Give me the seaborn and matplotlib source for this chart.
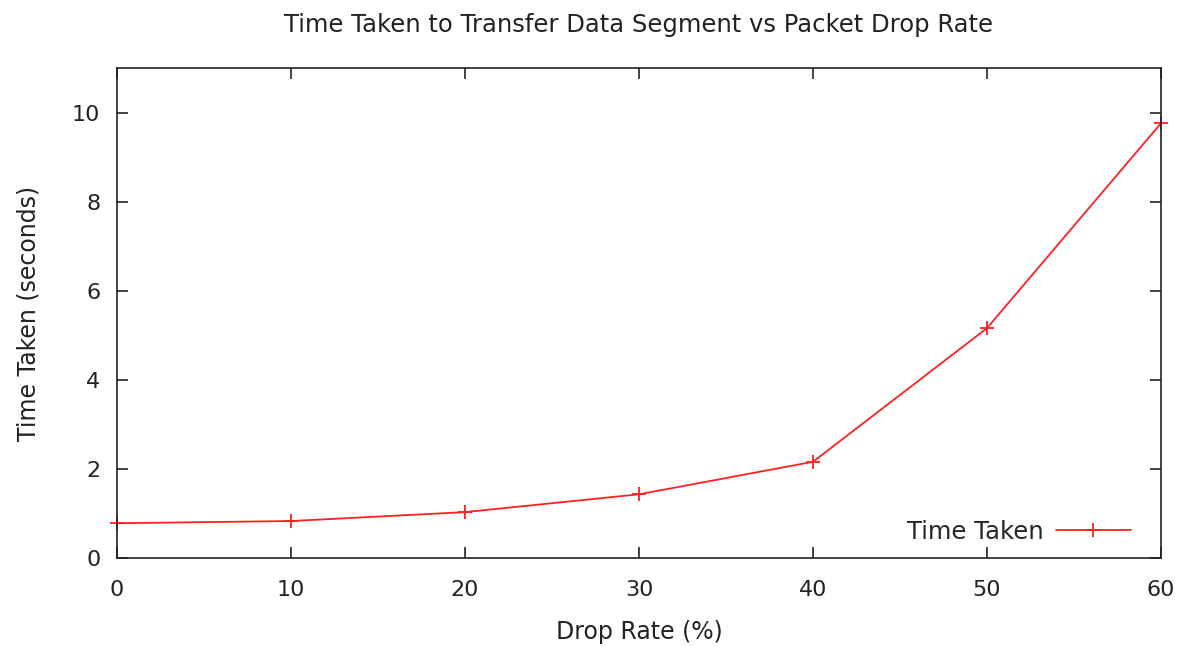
import matplotlib
matplotlib.use("Agg")
import pandas as pd
import matplotlib.pyplot as plt
import seaborn as sns

# Values
drop_rate = [0, 10, 20, 30, 40, 50, 60]
time_taken = [0.78, 0.83, 1.03, 1.43, 2.16, 5.16, 9.76]
y_ticks = [0, 2, 4, 6, 8, 10]

df = pd.DataFrame({"drop_rate": drop_rate, "time_taken": time_taken})

sns.set_style("ticks")
plt.rcParams['font.family'] = ['DejaVu Sans']

TEXT = "#222222"
RED = "#ff2020"

fig = plt.figure(figsize=(11.87, 6.46), dpi=100)
ax = fig.add_axes([117 / 1187, 88 / 646, 1044 / 1187, 490 / 646])

sns.lineplot(data=df, x="drop_rate", y="time_taken", color=RED, linewidth=1.3,
             marker="+", markersize=10, markeredgewidth=1.3, markeredgecolor=RED,
             label="Time Taken", ax=ax, clip_on=False)

ax.set_xlim(0, 60)
ax.set_ylim(0, 11)
ax.set_xticks(drop_rate)
ax.set_yticks(y_ticks)
ax.tick_params(direction="in", length=8, width=1.2, labelsize=16, top=True, right=True,
               colors=TEXT, labelcolor=TEXT)
ax.tick_params(axis="x", pad=16)
ax.tick_params(axis="y", pad=12)
for spine in ax.spines.values():
    spine.set_linewidth(1.2)
    spine.set_color(TEXT)

ax.set_xlabel("Drop Rate (%)", fontsize=17, color=TEXT, labelpad=14)
ax.set_ylabel("Time Taken (seconds)", fontsize=17, color=TEXT, labelpad=23)
ax.set_title("Time Taken to Transfer Data Segment vs Packet Drop Rate", fontsize=17.5,
             color=TEXT, pad=26)

ax.legend(loc="center right", bbox_to_anchor=(1014 / 1044, 26 / 490), frameon=False,
          fontsize=17.5, markerfirst=False, handlelength=3.1, handletextpad=0.5,
          borderpad=0, borderaxespad=0)

fig.savefig("out.png", dpi=100)
